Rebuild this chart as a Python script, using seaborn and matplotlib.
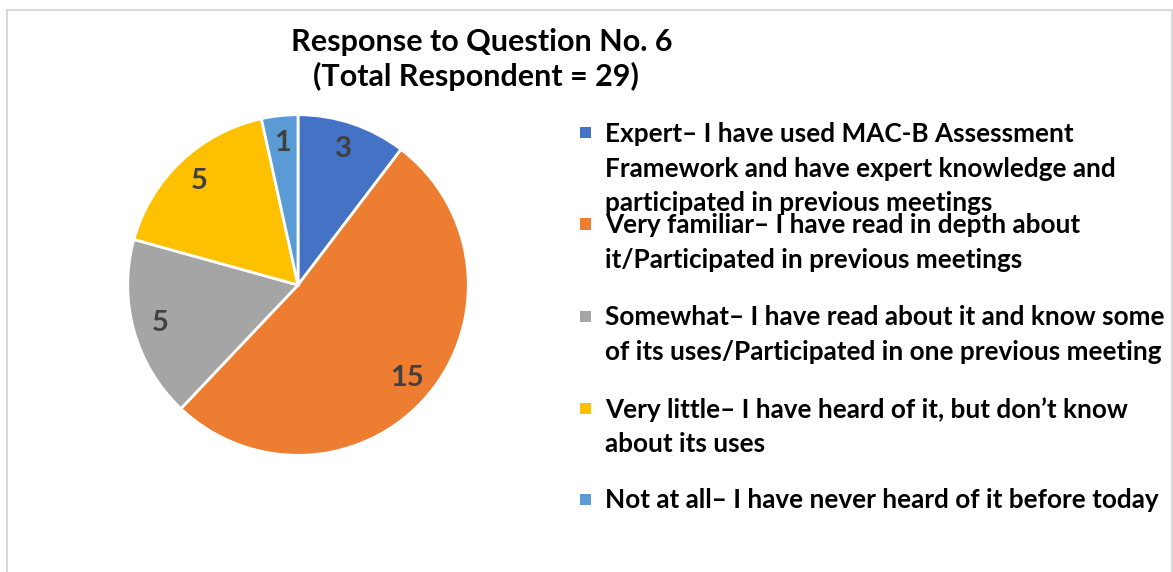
import matplotlib
matplotlib.use("Agg")
import matplotlib.pyplot as plt
from matplotlib.patches import Rectangle
import seaborn as sns

# Survey responses to question 6
categories = [
    "Expert\u2013 I have used MAC-B Assessment\nFramework and have expert knowledge and\nparticipated in previous meetings",
    "Very familiar\u2013 I have read in depth about\nit/Participated in previous meetings",
    "Somewhat\u2013 I have read about it and know some\nof its uses/Participated in one previous meeting",
    "Very little\u2013 I have heard of it, but don\u2019t know\nabout its uses",
    "Not at all\u2013 I have never heard of it before today",
]
counts = [3, 15, 5, 5, 1]
colors = ["#4472C4", "#ED7D31", "#A5A5A5", "#FFC000", "#5B9BD5"]
title_lines = ["Response to Question No. 6", "(Total Respondent = 29)"]

sns.set_theme(style="white")
plt.rcParams["font.family"] = ["Lato", "DejaVu Sans"]
palette = sns.color_palette(colors)

W, H = 1173, 572
fig = plt.figure(figsize=(W / 100, H / 100), dpi=100)
fig.patch.set_facecolor("white")

# light chart-area border
fig.add_artist(Rectangle((7 / W, -0.05), (1172 - 7) / W, (H - 10) / H + 0.05,
                         transform=fig.transFigure, fill=False,
                         edgecolor="#D9D9D9", linewidth=1.5))

# pie axes: centre (298, 285) px, radius 172 px
cx, cy, r = 298, 285, 172
ax = fig.add_axes([(cx - r) / W, (H - cy - r) / H, 2 * r / W, 2 * r / H])
total = sum(counts)
wedges, _, autotexts = ax.pie(
    counts,
    colors=palette,
    startangle=90,
    counterclock=False,
    radius=1.0,
    autopct=lambda p: f"{round(p * total / 100):d}",
    pctdistance=0.84,
    wedgeprops=dict(edgecolor="white", linewidth=2),
    textprops=dict(color="#404040", fontsize=21, fontweight="bold"),
)
ax.set_xlim(-1.01, 1.01)
ax.set_ylim(-1.01, 1.01)
ax.axis("off")

# title
fig.text(482 / W, 1 - 42 / H, title_lines[0], ha="center", va="center",
         fontsize=22, fontweight="bold", color="black")
fig.text(476 / W, 1 - 76 / H, title_lines[1], ha="center", va="center",
         fontsize=22, fontweight="bold", color="black")

# legend: fixed-pitch entries beside the pie
first_line_y = [133, 224, 316, 408, 499]
for label, col, y in zip(categories, palette, first_line_y):
    fig.add_artist(Rectangle((580 / W, 1 - (y + 5.5) / H), 11 / W, 11 / H,
                             transform=fig.transFigure, facecolor=col,
                             edgecolor="none"))
    fig.text(605 / W, 1 - (y - 11) / H, label, ha="left", va="top",
             fontsize=18.8, fontweight="bold", color="black", linespacing=1.53)

fig.savefig("out.png", dpi=100, facecolor="white")
